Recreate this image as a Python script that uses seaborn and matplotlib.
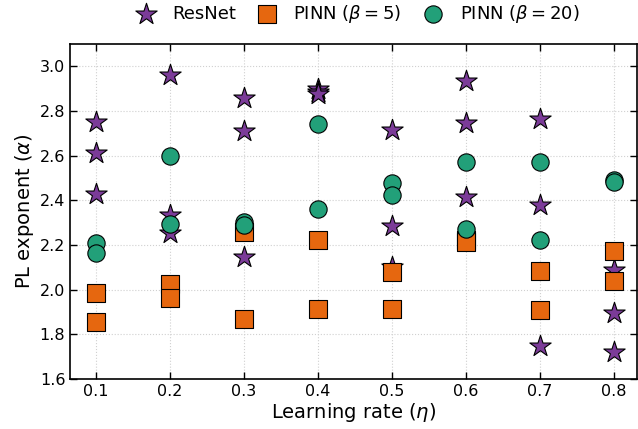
import numpy as np
import pandas as pd
import matplotlib
matplotlib.use("Agg")
import matplotlib.pyplot as plt
import seaborn as sns

# Data
lr_values = [0.1, 0.2, 0.3, 0.4, 0.5, 0.6, 0.7, 0.8]
resnet_alpha = [
    [2.75, 2.61, 2.43],
    [2.96, 2.335, 2.255],
    [2.86, 2.71, 2.145],
    [2.897, 2.885, 2.877],
    [2.717, 2.285, 2.10],
    [2.934, 2.747, 2.413],
    [2.766, 2.377, 1.748],
    [2.088, 1.893, 1.720],
]
pinn5_alpha = [
    [1.986, 1.854],
    [2.025, 1.963],
    [2.260, 1.866],
    [2.222, 1.914],
    [2.077, 1.915],
    [2.224, 2.213],
    [2.085, 1.908],
    [2.173, 2.038],
]
pinn20_alpha = [
    [2.208, 2.163],
    [2.597, 2.294],
    [2.305, 2.290],
    [2.742, 2.360],
    [2.477, 2.425],
    [2.574, 2.271],
    [2.574, 2.222],
    [2.492, 2.480],
]
labels = ["ResNet", r"PINN ($\beta=5$)", r"PINN ($\beta=20$)"]
colors = ["#7b3b98", "#e6670f", "#22a079"]
markers = ["*", "s", "o"]
sizes = [260, 155, 155]

rows = []
for lab, series in zip(labels, [resnet_alpha, pinn5_alpha, pinn20_alpha]):
    for lr, vals in zip(lr_values, series):
        for v in vals:
            rows.append({"lr": lr, "alpha": v, "model": lab})
df = pd.DataFrame(rows)

sns.set_style("ticks")
plt.rcParams["font.family"] = ["DejaVu Sans"]
for k in ["text.color", "axes.labelcolor", "xtick.color", "ytick.color"]:
    plt.rcParams[k] = "black"

fig = plt.figure(figsize=(6.38, 4.29), dpi=100)
ax = fig.add_axes([0.110, 0.117, 0.888, 0.780])

for lab, col, mk, sz in zip(labels, colors, markers, sizes):
    sub = df[df["model"] == lab]
    sns.scatterplot(data=sub, x="lr", y="alpha", ax=ax, color=col, marker=mk,
                    s=sz, edgecolor="black", linewidth=0.8, label=lab, zorder=3)

ax.set_xlim(0.065, 0.831)
ax.set_ylim(1.6, 3.1)
ax.set_xticks(lr_values)
ax.set_yticks([1.6, 1.8, 2.0, 2.2, 2.4, 2.6, 2.8, 3.0])
ax.tick_params(direction="in", top=True, right=True, labelsize=11.5, length=5, width=1,
               colors="black")
ax.grid(True, linestyle=":", color="#d0d0d0", linewidth=0.8)
for sp in ax.spines.values():
    sp.set_linewidth(1.2)
    sp.set_color("black")
ax.set_xlabel(r"Learning rate ($\eta$)", fontsize=14, color="black", labelpad=2)
ax.set_ylabel(r"PL exponent ($\alpha$)", fontsize=14, color="black", labelpad=3)

leg = ax.legend(loc="lower center", bbox_to_anchor=(0.5, 1.03), ncol=3, frameon=False,
                fontsize=13, handletextpad=0.45, columnspacing=0.75, borderaxespad=0.1,
                markerscale=1.0)
for t in leg.get_texts():
    t.set_color("black")

fig.savefig("out.png", dpi=100)
